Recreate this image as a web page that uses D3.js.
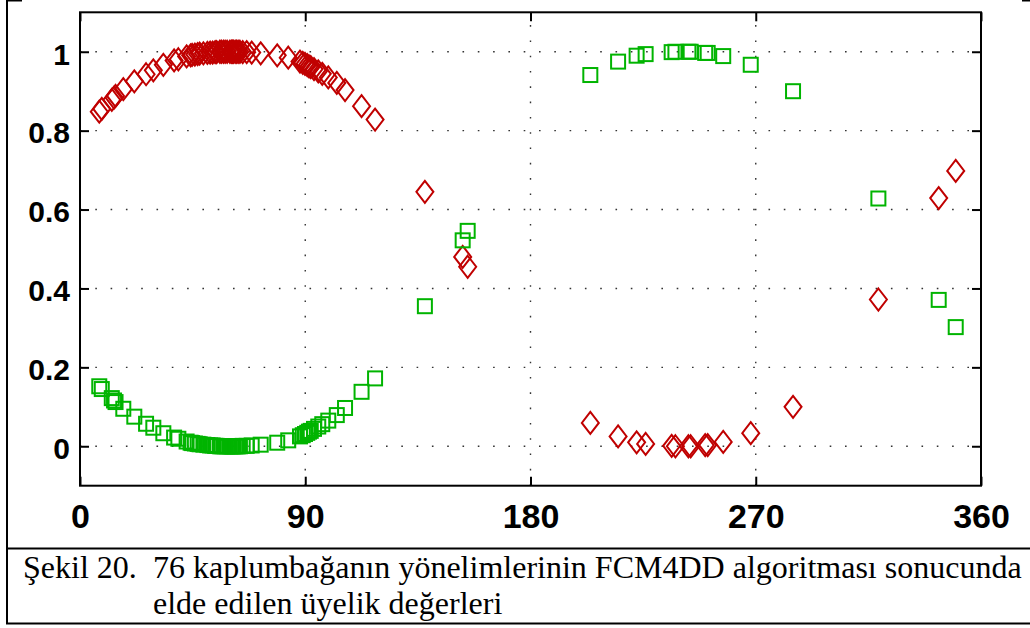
<!DOCTYPE html>
<html><head><meta charset="utf-8">
<script src="https://cdn.jsdelivr.net/npm/d3@7/dist/d3.min.js"></script>
<style>html,body{margin:0;padding:0;background:#fff;}svg{display:block;}</style>
</head><body>
<script>
// ---- data ----
const angles = [7.7, 8.7, 12.7, 13.6, 14.2, 17.3, 21.7, 26.4, 29.3, 33.3, 37.6, 39.3, 42.6, 44.2, 44.8, 45.9, 47.0, 47.8,
  49.3, 50.9, 52.0, 53.0, 54.0, 54.6, 55.9, 56.5, 57.3, 58.0, 58.8, 59.9, 60.5, 60.9, 61.3, 62.0, 62.6, 63.2, 63.9, 65.0,
  66.6, 68.6, 72.2, 78.8, 83.2, 87.9, 89.0, 89.9, 90.8, 91.5, 92.2, 93.5, 95.2, 96.8, 99.2, 102.6, 105.9, 112.5, 117.9,
  137.8, 152.9, 154.9,
  203.9, 215.0, 222.4, 226.0, 236.4, 237.9, 243.1, 244.0, 249.8, 250.8, 257.0, 268.0, 284.9,
  319.0, 343.1, 349.9];
const cluster1 = [0.848, 0.855, 0.878, 0.884, 0.888, 0.905, 0.925, 0.943, 0.953, 0.967, 0.978, 0.981, 0.988, 0.991, 0.992, 0.993, 0.994, 0.995,
  0.996, 0.997, 0.998, 0.998, 0.999, 0.999, 1.000, 1.000, 1.000, 1.000, 1.000, 1.000, 1.000, 1.000, 1.000, 1.000, 1.000, 1.000, 1.000, 0.999,
  0.999, 0.998, 0.996, 0.991, 0.985, 0.975, 0.972, 0.969, 0.966, 0.963, 0.961, 0.956, 0.950, 0.944, 0.935, 0.921, 0.903, 0.862, 0.828,
  0.645, 0.480, 0.455,
  0.059, 0.025, 0.010, 0.006, 0.001, 0.000, 0.000, 0.000, 0.003, 0.003, 0.011, 0.033, 0.100,
  0.372, 0.629, 0.698];
const cluster2 = [0.152, 0.145, 0.122, 0.116, 0.112, 0.095, 0.075, 0.057, 0.047, 0.033, 0.022, 0.019, 0.012, 0.009, 0.008, 0.007, 0.006, 0.005,
  0.004, 0.003, 0.002, 0.002, 0.001, 0.001, 0.000, 0.000, 0.000, 0.000, 0.000, 0.000, 0.000, 0.000, 0.000, 0.000, 0.000, 0.000, 0.000, 0.001,
  0.001, 0.002, 0.004, 0.009, 0.015, 0.025, 0.028, 0.031, 0.034, 0.037, 0.039, 0.044, 0.050, 0.056, 0.065, 0.079, 0.097, 0.138, 0.172,
  0.355, 0.522, 0.546,
  0.941, 0.975, 0.990, 0.994, 0.999, 1.000, 1.000, 1.000, 0.997, 0.997, 0.989, 0.967, 0.900,
  0.628, 0.371, 0.302];
const xTicks = [0, 90, 180, 270, 360];
const xTickLabels = ["0", "90", "180", "270", "360"];
const yTicks = [0, 0.2, 0.4, 0.6, 0.8, 1];
const yTickLabels = ["0", "0.2", "0.4", "0.6", "0.8", "1"];
const captionNumber = "Şekil 20.";
const captionLine1 = "76 kaplumbağanın yönelimlerinin FCM4DD algoritması sonucunda";
const captionLine2 = "elde edilen üyelik değerleri";

// ---- layout ----
const W = 1030, H = 628;
const L = 80, R = 981, T = 12.3, B = 485.7;
const x = d3.scaleLinear().domain([0, 360]).range([L, R]);
const y = d3.scaleLinear().domain([-0.1, 1.1]).range([B, T]);

const svg = d3.select("body").append("svg").attr("width", W).attr("height", H);

// outer figure frame
const frame = svg.append("g").attr("stroke", "#000").attr("stroke-width", 2).attr("fill", "none");
frame.append("line").attr("x1", 7).attr("x2", 7).attr("y1", 0).attr("y2", 623.5);
frame.append("line").attr("x1", 6).attr("x2", W).attr("y1", 623.5).attr("y2", 623.5);
frame.append("line").attr("x1", 6).attr("x2", W).attr("y1", 548.5).attr("y2", 548.5);
frame.append("line").attr("x1", 6).attr("x2", 22).attr("y1", 0.5).attr("y2", 0.5);
frame.append("line").attr("x1", 1022).attr("x2", W).attr("y1", 0.5).attr("y2", 0.5);

// grid (dotted)
const grid = svg.append("g").attr("stroke", "#333").attr("stroke-width", 1.4).attr("stroke-dasharray", "1.6,13.7");
grid.selectAll("line.h").data(yTicks).join("line").attr("class", "h")
  .attr("x1", L).attr("x2", R).attr("y1", d => y(d)).attr("y2", d => y(d));
grid.selectAll("line.v").data(xTicks.slice(1, -1)).join("line").attr("class", "v")
  .attr("x1", d => x(d)).attr("x2", d => x(d)).attr("y1", B).attr("y2", T);

// axes
const fontSans = "'Liberation Sans', Arial, Helvetica, sans-serif";
const axL = svg.append("g").attr("transform", `translate(${L},0)`)
  .call(d3.axisLeft(y).tickValues(yTicks).tickSize(-9).tickPadding(10).tickFormat((d, i) => yTickLabels[i]));
axL.selectAll("text").attr("font-size", 30).attr("font-weight", "bold").attr("font-family", fontSans)
  .attr("dy", "0.41em").attr("fill", "#000");
const axR = svg.append("g").attr("transform", `translate(${R},0)`)
  .call(d3.axisRight(y).tickValues(yTicks).tickSize(-9).tickFormat(""));
const axB = svg.append("g").attr("transform", `translate(0,${B})`)
  .call(d3.axisBottom(x).tickValues(xTicks).tickSize(-9).tickPadding(18).tickFormat((d, i) => xTickLabels[i]));
axB.selectAll("text").attr("font-size", 34).attr("font-weight", "bold").attr("font-family", fontSans).attr("fill", "#000");
const axT = svg.append("g").attr("transform", `translate(0,${T})`)
  .call(d3.axisTop(x).tickValues(xTicks).tickSize(-9).tickFormat(""));
[axL, axR, axB, axT].forEach(a => {
  a.select(".domain").remove();
  a.selectAll(".tick line").attr("stroke", "#000").attr("stroke-width", 2);
});

// plot box
svg.append("rect").attr("x", L).attr("y", T).attr("width", R - L).attr("height", B - T)
  .attr("fill", "none").attr("stroke", "#000").attr("stroke-width", 2);

// markers
const red = "#c00000", green = "#00b400";
const dHW = 8.5, dHH = 11, sH = 7;
svg.append("g").selectAll("path").data(angles).join("path")
  .attr("d", (d, i) => {
    const cx = x(d), cy = y(cluster1[i]);
    return `M${cx},${cy - dHH}L${cx + dHW},${cy}L${cx},${cy + dHH}L${cx - dHW},${cy}Z`;
  })
  .attr("fill", "none").attr("stroke", red).attr("stroke-width", 2);
svg.append("g").selectAll("rect").data(angles).join("rect")
  .attr("x", d => x(d) - sH).attr("y", (d, i) => y(cluster2[i]) - sH)
  .attr("width", 2 * sH).attr("height", 2 * sH)
  .attr("fill", "none").attr("stroke", green).attr("stroke-width", 2);

// caption
const fontSerif = "'Liberation Serif', 'Times New Roman', Times, serif";
const cap = svg.append("g").attr("font-family", fontSerif).attr("font-size", 32).attr("fill", "#000");
const t0 = cap.append("text").attr("x", 0).attr("y", 0).text(captionNumber);
const t1 = cap.append("text").attr("x", 0).attr("y", 0).text(captionLine1);
const t2 = cap.append("text").attr("x", 0).attr("y", 0).text(captionLine2);
const s = 869 / t1.node().getComputedTextLength();
t0.attr("transform", `translate(23,577.5) scale(${s},1)`);
t1.attr("transform", `translate(153,577.5) scale(${s},1)`);
t2.attr("transform", `translate(153,613.5) scale(${s},1)`);
</script>
</body></html>
